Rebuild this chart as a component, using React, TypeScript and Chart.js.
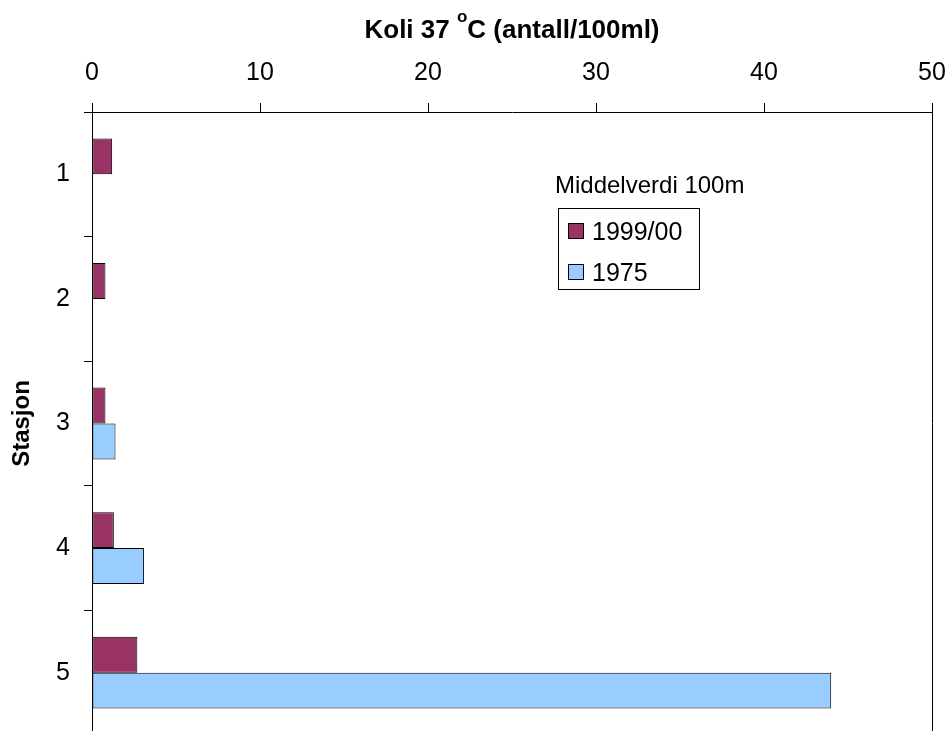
import React, { useEffect, useRef } from "react";
import { Chart, registerables } from "chart.js";

Chart.register(...registerables);

const stations = ["1", "2", "3", "4", "5"];
const values1999 = [1.2, 0.8, 0.8, 1.3, 2.7];
const values1975 = [null, null, 1.4, 3.1, 44.0];
const seriesLabels = ["1999/00", "1975"];
const legendTitle = "Middelverdi 100m";
const titleBefore = "Koli 37 ";
const titleSup = "o";
const titleAfter = "C (antall/100ml)";
const yTitle = "Stasjon";

const FONT = "'Liberation Sans', Arial, sans-serif";
const PURPLE = "#993366";
const BLUE = "#99CCFF";

const overlayPlugin = {
  id: "overlay",
  afterDraw(chart: any) {
    const ctx = chart.ctx as CanvasRenderingContext2D;
    ctx.save();
    // Title with superscript
    ctx.fillStyle = "#000";
    ctx.textBaseline = "alphabetic";
    ctx.textAlign = "left";
    const mainFont = `bold 26px ${FONT}`;
    const supFont = `bold 17px ${FONT}`;
    ctx.font = mainFont;
    const w1 = ctx.measureText(titleBefore).width;
    const w3 = ctx.measureText(titleAfter).width;
    ctx.font = supFont;
    const w2 = ctx.measureText(titleSup).width;
    const total = w1 + w2 + w3;
    const cx = (chart.chartArea.left + chart.chartArea.right) / 2;
    let x = cx - total / 2;
    const base = 38;
    ctx.font = mainFont;
    ctx.fillText(titleBefore, x, base);
    x += w1;
    ctx.font = supFont;
    ctx.fillText(titleSup, x, base - 16);
    x += w2;
    ctx.font = mainFont;
    ctx.fillText(titleAfter, x, base);

    // Right border of plot area
    ctx.strokeStyle = "#000";
    ctx.lineWidth = 1;
    ctx.beginPath();
    ctx.moveTo(Math.round(chart.chartArea.right) + 0.5, chart.chartArea.top);
    ctx.lineTo(Math.round(chart.chartArea.right) + 0.5, chart.chartArea.bottom);
    ctx.stroke();

    // Legend
    ctx.font = `24px ${FONT}`;
    ctx.fillText(legendTitle, 555, 193);
    ctx.fillStyle = "#fff";
    ctx.fillRect(558.5, 208.5, 141, 81);
    ctx.strokeRect(558.5, 208.5, 141, 81);
    const colors = [PURPLE, BLUE];
    const sqY = [223, 264];
    const txtY = [240, 281];
    ctx.font = `25px ${FONT}`;
    for (let i = 0; i < seriesLabels.length; i++) {
      ctx.fillStyle = colors[i];
      ctx.fillRect(568.5, sqY[i] + 0.5, 15, 15);
      ctx.strokeRect(568.5, sqY[i] + 0.5, 15, 15);
      ctx.fillStyle = "#000";
      ctx.fillText(seriesLabels[i], 592, txtY[i]);
    }
    ctx.restore();
  },
};

export default function App() {
  const ref = useRef<HTMLCanvasElement>(null);
  useEffect(() => {
    if (!ref.current) return;
    const chart = new Chart(ref.current, {
      type: "bar",
      data: {
        labels: stations,
        datasets: [
          {
            label: seriesLabels[0],
            data: values1999,
            backgroundColor: PURPLE,
            borderColor: "#000",
            borderWidth: 1,
            borderSkipped: false,
          },
          {
            label: seriesLabels[1],
            data: values1975 as any,
            backgroundColor: BLUE,
            borderColor: "#000",
            borderWidth: 1,
            borderSkipped: false,
          },
        ],
      },
      options: {
        indexAxis: "y",
        responsive: false,
        animation: false,
        devicePixelRatio: 1,
        layout: { padding: { left: 0, right: 20, top: 0, bottom: 4 } },
        datasets: { bar: { barPercentage: 1, categoryPercentage: 0.576 } },
        plugins: {
          legend: { display: false },
          title: { display: false },
          tooltip: { enabled: false },
        },
        scales: {
          x: {
            position: "top",
            min: 0,
            max: 50,
            ticks: {
              stepSize: 10,
              color: "#000",
              font: { family: FONT, size: 25 },
              padding: 15,
              maxRotation: 0,
            },
            grid: {
              drawOnChartArea: false,
              drawTicks: true,
              tickLength: 9,
              color: "#000",
            },
            border: { display: true, color: "#000", width: 1 },
            afterFit: (scale: any) => {
              scale.height = 112;
              scale.paddingLeft = 0;
              scale.paddingRight = 0;
            },
          },
          y: {
            offset: true,
            ticks: {
              color: "#000",
              font: { family: FONT, size: 25 },
              padding: 14,
            },
            grid: {
              offset: true,
              drawOnChartArea: false,
              drawTicks: true,
              tickLength: 8,
              color: "#000",
            },
            border: { display: true, color: "#000", width: 1 },
            title: {
              display: true,
              text: yTitle,
              color: "#000",
              font: { family: FONT, size: 24, weight: "bold" },
              padding: { top: 8, bottom: 0 },
            },
            afterFit: (scale: any) => {
              scale.width = 92;
            },
          },
        },
      },
      plugins: [overlayPlugin],
    });
    return () => chart.destroy();
  }, []);
  return (
    <div
      style={{
        position: "absolute",
        left: 0,
        top: 0,
        width: 952,
        height: 731,
        overflow: "hidden",
        background: "#fff",
      }}
    >
      <canvas ref={ref} width={952} height={764} style={{ display: "block" }} />
    </div>
  );
}
